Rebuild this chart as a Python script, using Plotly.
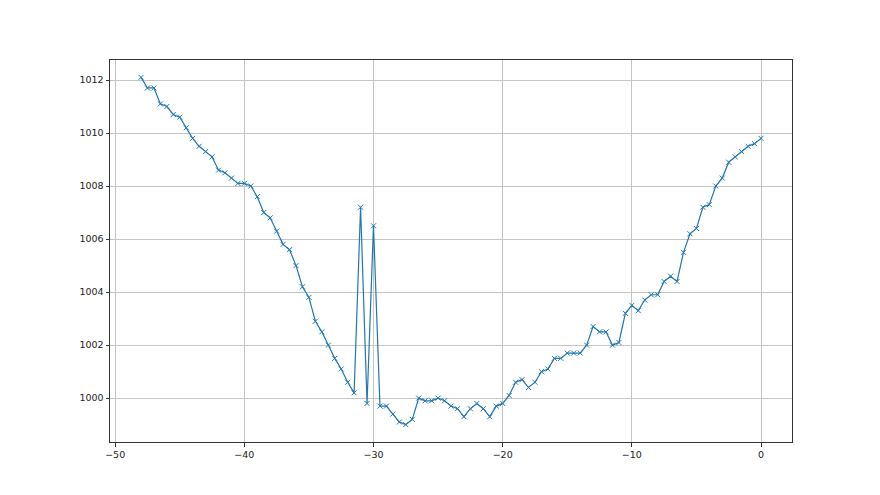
import numpy as np
import plotly.graph_objects as go

x_vals = [-48 + 0.5 * i for i in range(97)]
pressure = [
    1012.1, 1011.7, 1011.7, 1011.1, 1011.0, 1010.7, 1010.6, 1010.2, 1009.8, 1009.5,
    1009.3, 1009.1, 1008.6, 1008.5, 1008.3, 1008.1, 1008.1, 1008.0, 1007.6, 1007.0,
    1006.8, 1006.3, 1005.8, 1005.6, 1005.0, 1004.2, 1003.8, 1002.9, 1002.5, 1002.0,
    1001.5, 1001.1, 1000.6, 1000.2, 1007.2, 999.8, 1006.5, 999.7, 999.7, 999.4,
    999.1, 999.0, 999.2, 1000.0, 999.9, 999.9, 1000.0, 999.9, 999.7, 999.6,
    999.3, 999.6, 999.8, 999.6, 999.3, 999.7, 999.8, 1000.1, 1000.6, 1000.7,
    1000.4, 1000.6, 1001.0, 1001.1, 1001.5, 1001.5, 1001.7, 1001.7, 1001.7, 1002.0,
    1002.7, 1002.5, 1002.5, 1002.0, 1002.1, 1003.2, 1003.5, 1003.3, 1003.7, 1003.9,
    1003.9, 1004.4, 1004.6, 1004.4, 1005.5, 1006.2, 1006.4, 1007.2, 1007.3, 1008.0,
    1008.3, 1008.9, 1009.1, 1009.3, 1009.5, 1009.6, 1009.8,
]
x_ticks = [-50, -40, -30, -20, -10, 0]
y_ticks = [1000, 1002, 1004, 1006, 1008, 1010, 1012]

fig = go.Figure()
fig.add_trace(go.Scatter(
    x=x_vals, y=pressure, mode="lines+markers",
    line=dict(color="#1f77b4", width=1.2),
    marker=dict(symbol="x-thin", size=5, color="#1f77b4",
                line=dict(color="#1f77b4", width=1)),
))

xmin, xmax = min(x_vals), max(x_vals)
ymin, ymax = min(pressure), max(pressure)
xm = 0.05 * (xmax - xmin)
ym = 0.05 * (ymax - ymin)

axis_common = dict(
    showline=True, linecolor="#333333", linewidth=1, mirror=True,
    showgrid=True, gridcolor="#c4c4c4", gridwidth=0.8,
    ticks="outside", ticklen=3.5, tickwidth=1, tickcolor="#333333",
    zeroline=False, tickfont=dict(family="DejaVu Sans", size=9.5, color="#222222"),
)
fig.update_xaxes(range=[xmin - xm, xmax + xm], tickvals=x_ticks, **axis_common)
fig.update_yaxes(range=[ymin - ym, ymax + ym], tickvals=y_ticks, **axis_common)

fig.update_layout(
    width=880, height=495,
    margin=dict(l=102, r=96, t=52, b=61),
    plot_bgcolor="white", paper_bgcolor="white",
    showlegend=False,
)
fig.write_html("out.html")
